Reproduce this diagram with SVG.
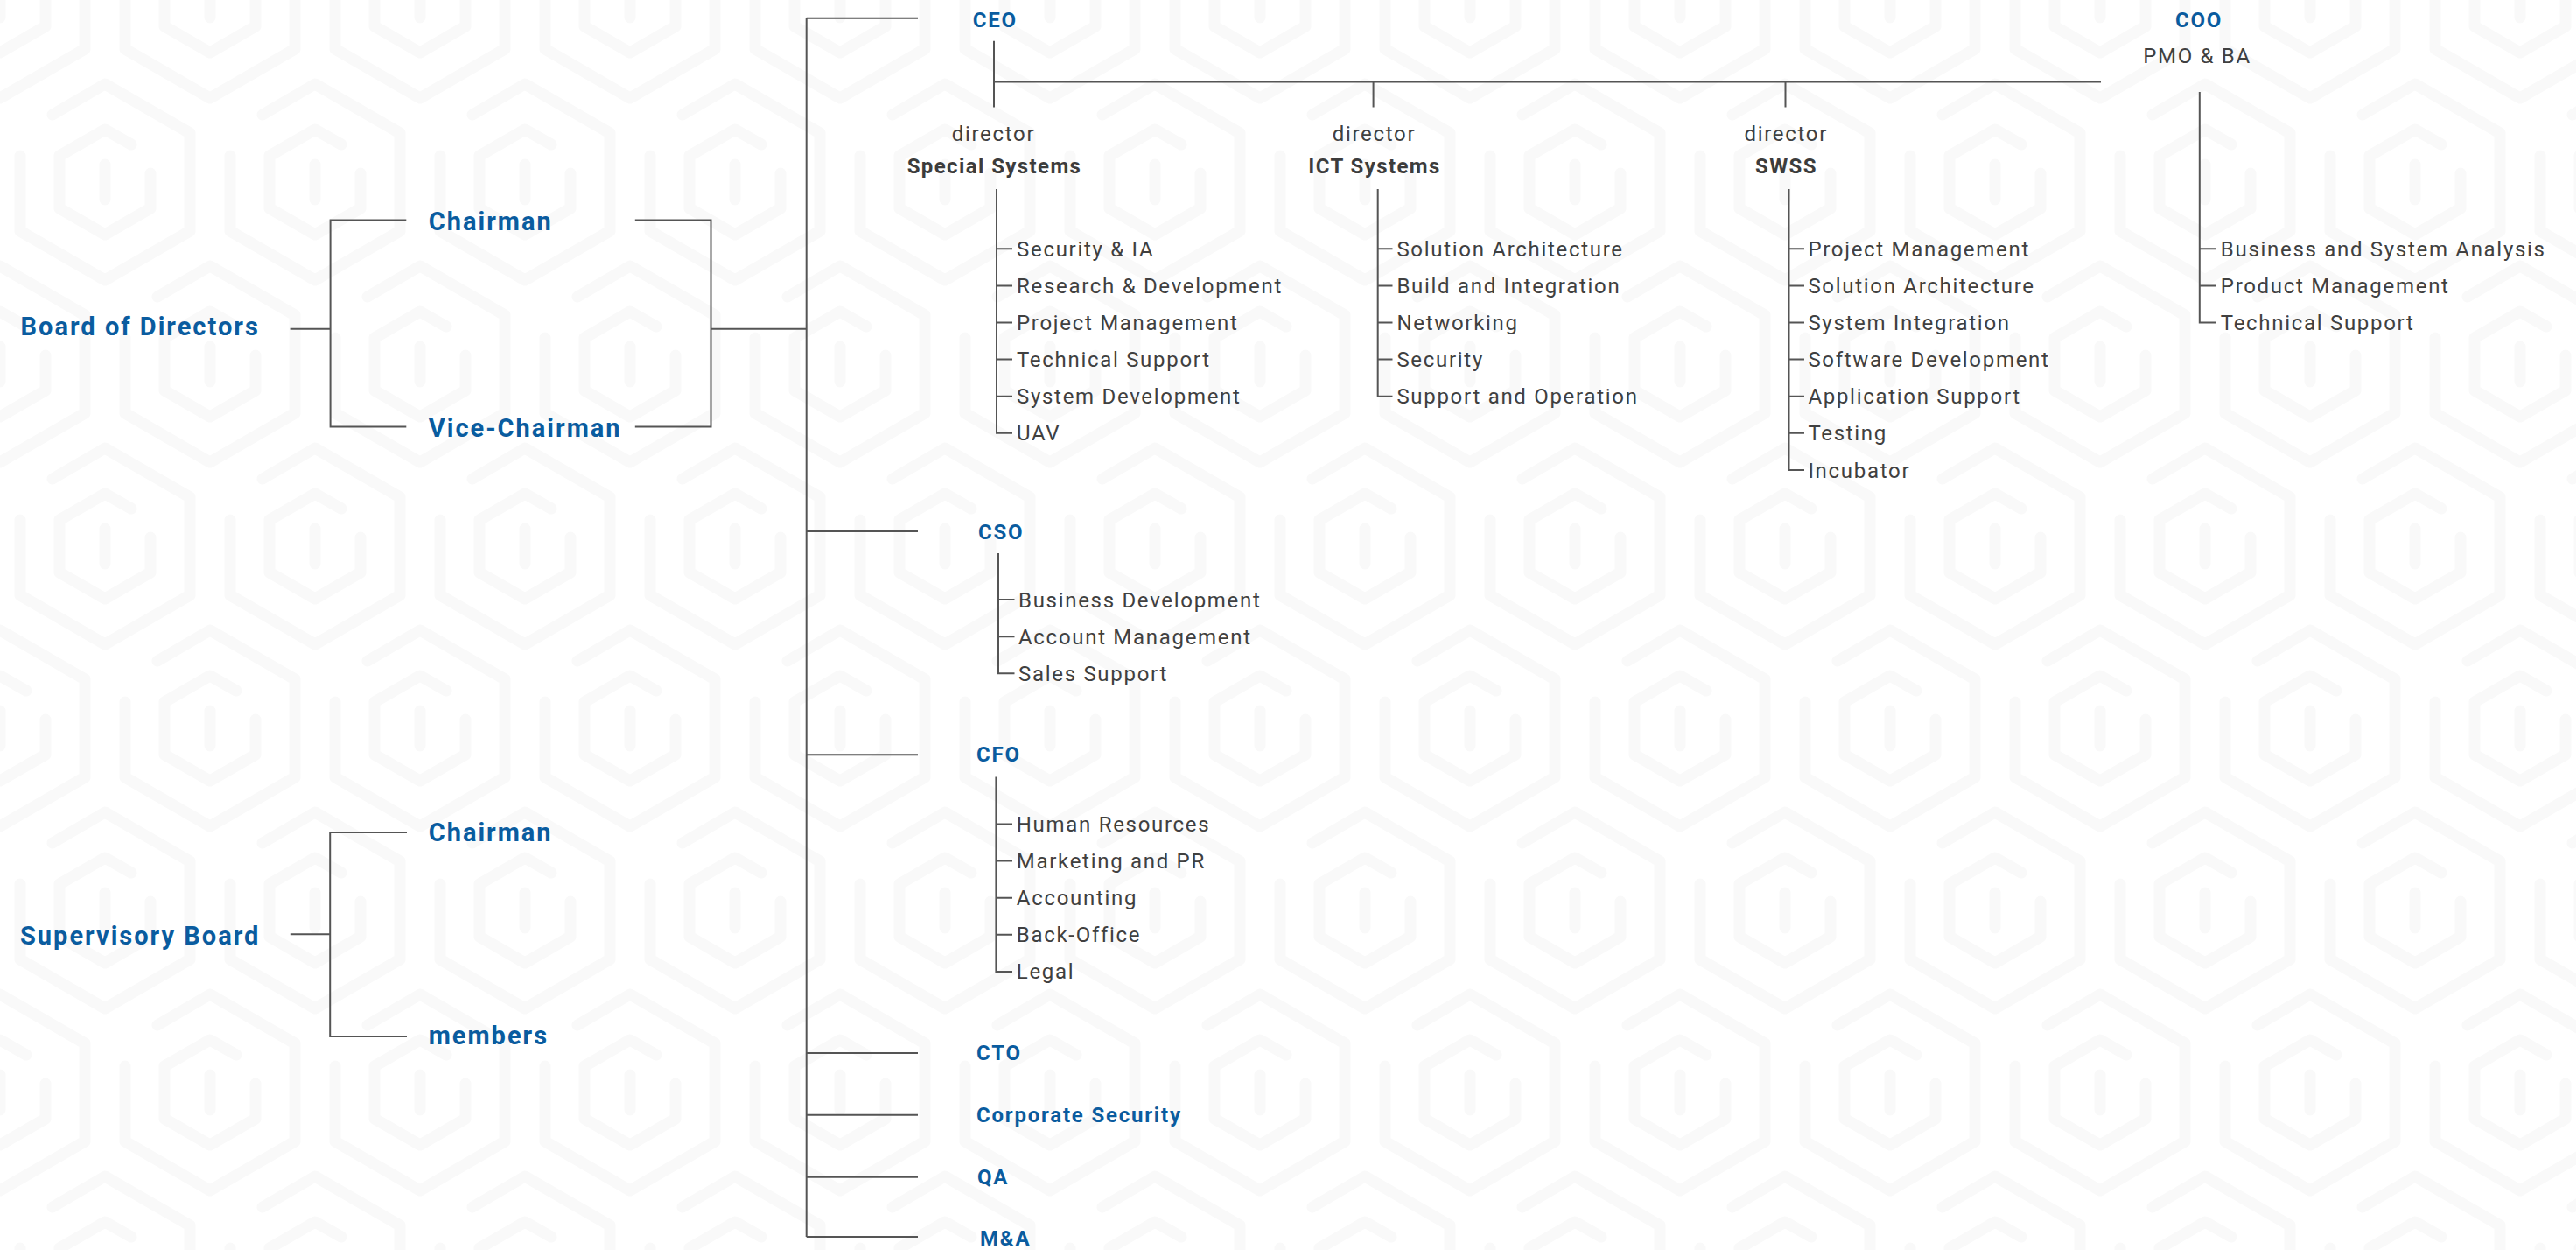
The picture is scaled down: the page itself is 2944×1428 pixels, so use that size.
<svg xmlns="http://www.w3.org/2000/svg" xmlns:xlink="http://www.w3.org/1999/xlink" width="2944" height="1428" viewBox="0 0 2944 1428">
<style>
.ln{fill:none;stroke:#555;stroke-width:2}
.it{font-family:Roboto,"Liberation Sans",sans-serif;font-size:24px;letter-spacing:1.7px;fill:#404040}
.dr{font-family:Roboto,"Liberation Sans",sans-serif;font-size:24px;letter-spacing:1.7px;fill:#404040;text-anchor:middle}
.hd{font-family:Roboto,"Liberation Sans",sans-serif;font-size:24px;font-weight:700;letter-spacing:1.4px;fill:#3c3c3c;text-anchor:middle}
.bl{font-family:Roboto,"Liberation Sans",sans-serif;font-size:24px;font-weight:700;letter-spacing:1.8px;fill:#0a5c9f}
.lb{font-family:Roboto,"Liberation Sans",sans-serif;font-size:29px;font-weight:700;letter-spacing:2px;fill:#0a5c9f}
.bg{fill:none;stroke:#f9f9f9;stroke-width:13;stroke-linecap:round;stroke-linejoin:round}
</style>
<defs>
<g id="hx">
<path class="bg" d="M-97,-30 V56 L0,112 L97,56 V-56 L0,-112 L-60,-77"/>
<path class="bg" d="M52,-10 V30 L0,60 L-52,30 V-30 L0,-60 L30,-43"/>
<path class="bg" d="M0,-20 V20"/>
</g>
<pattern id="pt" x="0" y="0" width="240" height="416" patternUnits="userSpaceOnUse">
<use xlink:href="#hx" x="0" y="0"/>
<use xlink:href="#hx" x="240" y="0"/>
<use xlink:href="#hx" x="120" y="208"/>
<use xlink:href="#hx" x="0" y="416"/>
<use xlink:href="#hx" x="240" y="416"/>
</pattern>
</defs>
<rect width="2944" height="1428" fill="#fff"/>
<rect id="background" width="2944" height="1428" fill="url(#pt)"/>

<g id="connectors">
<path class="ln" d="M331.6,375.8 H377.6 M464.3,251.4 H377.6 V487.6 H464.3"/>
<path class="ln" d="M725.8,251.4 H812.5 V487.6 H725.8 M812.5,375.8 H921.7"/>
<path class="ln" d="M331.8,1067.3 H377.2 M465,951 H377.2 V1184 H465"/>
<path class="ln" d="M921.7,20.7 V1413"/>
<path class="ln" d="M921.7,20.7 H1049 M921.7,607 H1049 M921.7,862.3 H1049 M921.7,1203 H1049 M921.7,1273.7 H1049 M921.7,1344.7 H1049 M921.7,1413 H1049"/>
<path class="ln" d="M1136,46.7 V122.5 M1136,93.5 H2401 M1569.6,93.5 V122.5 M2040.5,93.5 V122.5"/>
<path class="ln" d="M1139,216 V494.8 H1157 M1139,284.3 H1157 M1139,326.4 H1157 M1139,368.5 H1157 M1139,410.6 H1157 M1139,452.7 H1157"/>
<path class="ln" d="M1574.7,216 V452.7 H1591.5 M1574.7,284.3 H1591.5 M1574.7,326.4 H1591.5 M1574.7,368.5 H1591.5 M1574.7,410.6 H1591.5"/>
<path class="ln" d="M2044.5,216 V537 H2062 M2044.5,284.3 H2062 M2044.5,326.4 H2062 M2044.5,368.5 H2062 M2044.5,410.6 H2062 M2044.5,452.7 H2062 M2044.5,494.8 H2062"/>
<path class="ln" d="M2513.8,105 V368.5 H2532 M2513.8,284.3 H2532 M2513.8,326.4 H2532"/>
<path class="ln" d="M1141,632 V769.3 H1159.5 M1141,685.1 H1159.5 M1141,727.2 H1159.5"/>
<path class="ln" d="M1138.4,887.6 V1109.9 H1157 M1138.4,941.5 H1157 M1138.4,983.6 H1157 M1138.4,1025.7 H1157 M1138.4,1067.8 H1157"/>
</g>

<g id="board-of-directors"><text class="lb" x="23.6" y="382.7">Board of Directors</text></g>
<g id="bod-chairman"><text class="lb" x="489.8" y="262.5">Chairman</text></g>
<g id="bod-vice-chairman"><text class="lb" x="489.8" y="498.5">Vice-Chairman</text></g>
<g id="supervisory-board"><text class="lb" x="23" y="1079">Supervisory Board</text></g>
<g id="sb-chairman"><text class="lb" x="489.7" y="961">Chairman</text></g>
<g id="sb-members"><text class="lb" x="489.7" y="1193">members</text></g>

<g id="ceo"><text class="bl" x="1111.7" y="31">CEO</text></g>
<g id="coo"><text class="bl" x="2486" y="30.6">COO</text><text class="dr" x="2511" y="71.6">PMO &amp; BA</text></g>
<g id="cso"><text class="bl" x="1118" y="615.5">CSO</text></g>
<g id="cfo"><text class="bl" x="1116" y="870">CFO</text></g>
<g id="cto"><text class="bl" x="1116" y="1211">CTO</text></g>
<g id="corporate-security"><text class="bl" x="1116" y="1282">Corporate Security</text></g>
<g id="qa"><text class="bl" x="1117" y="1353">QA</text></g>
<g id="ma"><text class="bl" x="1120" y="1422.5">M&amp;A</text></g>

<g id="special-systems"><text class="dr" x="1135.5" y="160.7">director</text><text class="hd" x="1136.5" y="198">Special Systems</text></g>
<g id="ict-systems"><text class="dr" x="1570.5" y="160.7">director</text><text class="hd" x="1571" y="198">ICT Systems</text></g>
<g id="swss"><text class="dr" x="2041.3" y="160.7">director</text><text class="hd" x="2041.5" y="198">SWSS</text></g>

<g id="special-systems-units">
<text class="it" x="1162" y="292.8">Security &amp; IA</text>
<text class="it" x="1162" y="334.9">Research &amp; Development</text>
<text class="it" x="1162" y="377">Project Management</text>
<text class="it" x="1162" y="419.1">Technical Support</text>
<text class="it" x="1162" y="461.2">System Development</text>
<text class="it" x="1162" y="503.3">UAV</text>
</g>
<g id="ict-systems-units">
<text class="it" x="1596.4" y="292.8">Solution Architecture</text>
<text class="it" x="1596.4" y="334.9">Build and Integration</text>
<text class="it" x="1596.4" y="377">Networking</text>
<text class="it" x="1596.4" y="419.1">Security</text>
<text class="it" x="1596.4" y="461.2">Support and Operation</text>
</g>
<g id="swss-units">
<text class="it" x="2066.4" y="292.8">Project Management</text>
<text class="it" x="2066.4" y="334.9">Solution Architecture</text>
<text class="it" x="2066.4" y="377">System Integration</text>
<text class="it" x="2066.4" y="419.1">Software Development</text>
<text class="it" x="2066.4" y="461.2">Application Support</text>
<text class="it" x="2066.4" y="503.3">Testing</text>
<text class="it" x="2066.4" y="545.5">Incubator</text>
</g>
<g id="coo-units">
<text class="it" x="2537.8" y="292.8">Business and System Analysis</text>
<text class="it" x="2537.8" y="334.9">Product Management</text>
<text class="it" x="2537.8" y="377">Technical Support</text>
</g>
<g id="cso-units">
<text class="it" x="1164" y="693.6">Business Development</text>
<text class="it" x="1164" y="735.7">Account Management</text>
<text class="it" x="1164" y="777.8">Sales Support</text>
</g>
<g id="cfo-units">
<text class="it" x="1161.8" y="950">Human Resources</text>
<text class="it" x="1161.8" y="992.1">Marketing and PR</text>
<text class="it" x="1161.8" y="1034.2">Accounting</text>
<text class="it" x="1161.8" y="1076.3">Back-Office</text>
<text class="it" x="1161.8" y="1118.4">Legal</text>
</g>
</svg>
